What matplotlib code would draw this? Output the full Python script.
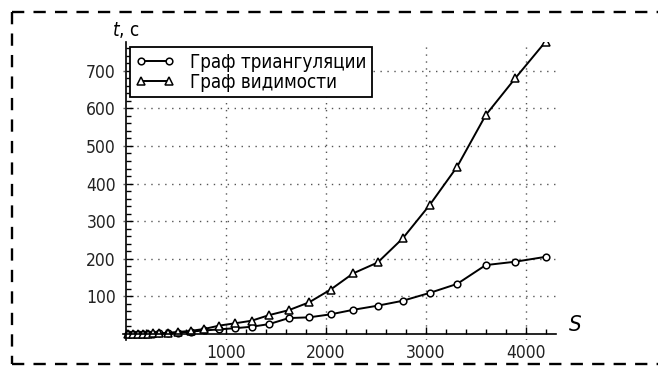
import numpy as np
import matplotlib
matplotlib.use("Agg")
import matplotlib.pyplot as plt
from matplotlib.lines import Line2D
from matplotlib.ticker import MultipleLocator, FixedLocator

plt.rcParams['font.family'] = ['DejaVu Sans']
plt.rcParams['font.stretch'] = 'condensed'

# number of vertices S and time t, s
S = [20, 75, 125, 175, 225, 275, 335, 425, 525, 650, 785, 935, 1090, 1260,
     1435, 1630, 1835, 2050, 2275, 2520, 2770, 3040, 3315, 3600, 3895, 4200]
t_tri = [0, 0, 0, 0, 0, 0, 1, 2, 3, 6, 9, 12, 15, 19,
         26, 42, 44, 52, 64, 75, 88, 109, 133, 183, 192, 205]
t_vis = [0, 0, 0, 0, 0, 1, 1, 3, 5, 8, 13, 22, 28, 35,
         50, 63, 84, 118, 161, 190, 254, 343, 445, 582, 680, 778]
labels = ["Граф триангуляции", "Граф видимости"]
xticks = [1000, 2000, 3000, 4000]
yticks = [100, 200, 300, 400, 500, 600, 700]

W, H = 658, 366
fig = plt.figure(figsize=(W / 100, H / 100), dpi=100)
ax = fig.add_axes([122.7 / W, (H - 339.5) / H, 433 / W, (339.5 - 41.5) / H])

ax.plot(S, t_tri, color='black', lw=1.4, marker='o', ms=4.8, mfc='white',
        mec='black', mew=1.1, label=labels[0])
ax.plot(S, t_vis, color='black', lw=1.4, marker='^', ms=5.2, mfc='white',
        mec='black', mew=1.1, label=labels[1])

ax.set_xlim(-30, 4300)
ax.set_ylim(-15, 778)

for side in ['top', 'right']:
    ax.spines[side].set_visible(False)
ax.spines['left'].set_position(('data', 0))
ax.spines['bottom'].set_position(('data', 0))
for side in ['left', 'bottom']:
    ax.spines[side].set_linewidth(1.2)

ax.xaxis.set_major_locator(FixedLocator(xticks))
ax.yaxis.set_major_locator(FixedLocator(yticks))
ax.xaxis.set_minor_locator(MultipleLocator(200))
ax.yaxis.set_minor_locator(MultipleLocator(20))
ax.tick_params(which='both', direction='in', color='black', width=1)
ax.tick_params(which='major', length=5, labelsize=12.5, pad=7,
               labelcolor='#222222')
ax.tick_params(which='minor', length=3.5)

ax.grid(True, which='major', color='#555555', lw=1, linestyle=(0, (1, 4)))

leg = ax.legend(loc='upper left', bbox_to_anchor=(130 / W, 1 - 47 / H),
                bbox_transform=fig.transFigure, borderaxespad=0,
                fontsize=13.5, handlelength=2.1, handletextpad=0.8,
                borderpad=0.3, labelspacing=0.05, fancybox=False,
                framealpha=1, edgecolor='black', numpoints=2)
leg.get_frame().set_linewidth(1.3)

fig.text(112 / W, 1 - 30 / H, r"$t$, с", fontsize=13.5, va='center', ha='left')
fig.text(575 / W, 1 - 325 / H, "S", fontsize=16, style='italic',
         va='center', ha='center')

# dashed frame (left, top, bottom)
frame_kw = dict(color='black', lw=1.7, dashes=(5.2, 3.9),
                transform=fig.transFigure)
fig.add_artist(Line2D([12 / W, 12 / W], [1 - 12 / H, 1 - 364 / H], **frame_kw))
fig.add_artist(Line2D([12 / W, 1], [1 - 12 / H, 1 - 12 / H], **frame_kw))
fig.add_artist(Line2D([12 / W, 1], [1 - 364 / H, 1 - 364 / H], **frame_kw))

fig.savefig("out.png", dpi=100)
